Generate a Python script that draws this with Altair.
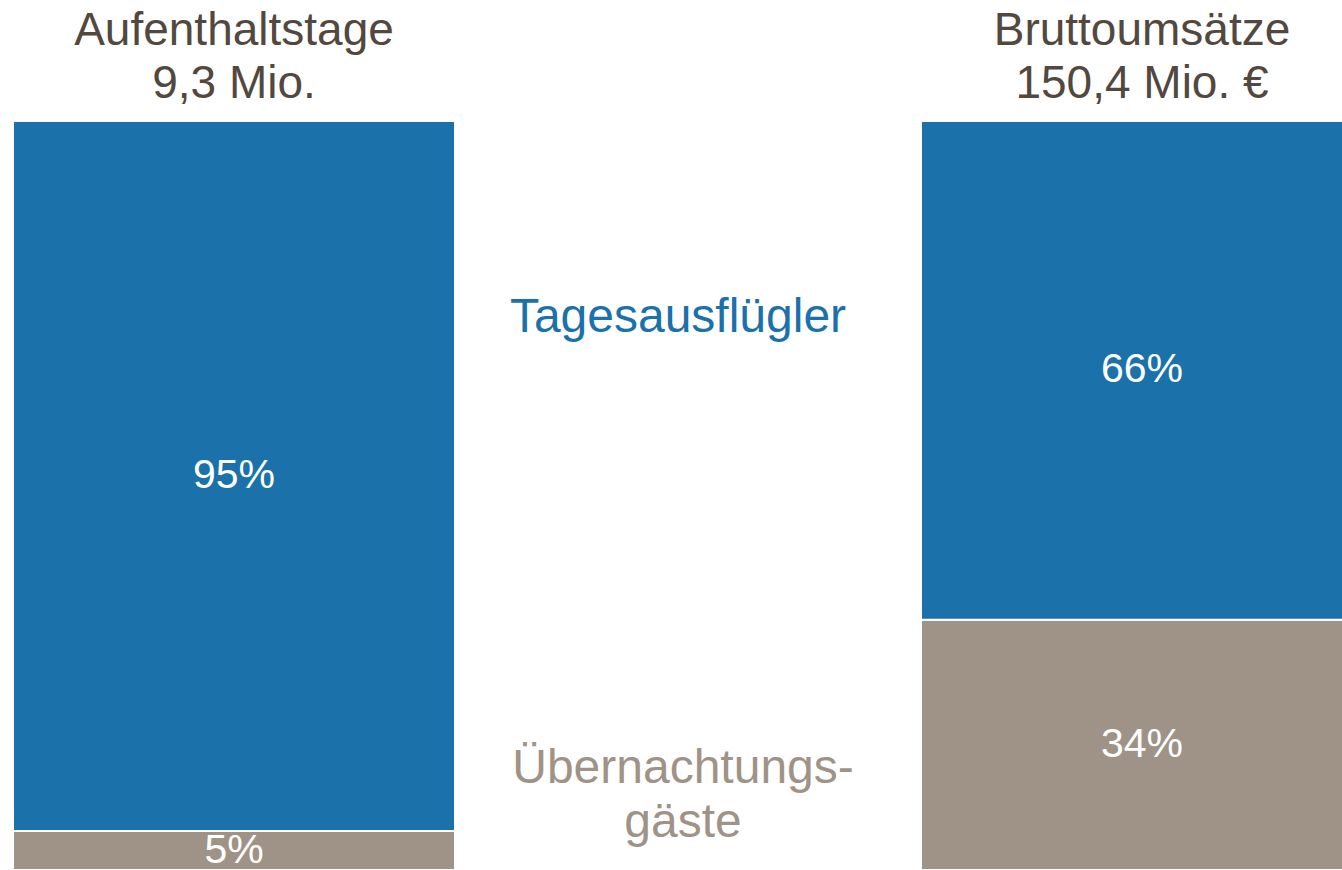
import altair as alt
import pandas as pd

# ---- data ----
categories = ["Aufenthaltstage", "Bruttoumsätze"]
totals = ["9,3 Mio.", "150,4 Mio. €"]
segments = ["Übernachtungsgäste", "Tagesausflügler"]
day_trippers = [94.8, 66.6]      # Tagesausflügler share (%), as drawn
overnight = [5.2, 33.4]          # Übernachtungsgäste share (%), as drawn
day_labels = ["95%", "66%"]
night_labels = ["5%", "34%"]
legend_day = ["Tagesausflügler"]
legend_night = ["Übernachtungs-", "gäste"]

BLUE = "#1B71AA"
GRAY = "#9F9387"
DARK = "#524840"
FONT = "Liberation Sans"

rows = []
for i, c in enumerate(categories):
    rows.append({"category": c, "segment": segments[0], "share": overnight[i],
                 "label": night_labels[i], "order": 0})
    rows.append({"category": c, "segment": segments[1], "share": day_trippers[i],
                 "label": day_labels[i], "order": 1})
df = pd.DataFrame(rows)
titles = pd.DataFrame({"category": categories, "total": totals})

x_enc = alt.X("category:N", sort=categories, axis=None,
              scale=alt.Scale(domain=categories, range=[0, 1350], paddingInner=0.5132, paddingOuter=0))
y_scale = alt.Scale(domain=[0, 100], nice=False, zero=True)

base = alt.Chart(df).transform_stack(
    stack="share", groupby=["category"], as_=["y0", "y1"],
    sort=[alt.SortField("order", order="ascending")]
).transform_calculate(mid="(datum.y0 + datum.y1) / 2")

bars = base.mark_bar(clip=True, stroke="white", strokeWidth=2).encode(
    x=x_enc,
    y=alt.Y("y0:Q", scale=y_scale, axis=None),
    y2="y1:Q",
    color=alt.Color("segment:N", scale=alt.Scale(domain=segments, range=[GRAY, BLUE]), legend=None),
)

pct = base.mark_text(font=FONT, fontSize=41, color="white", baseline="middle", align="center").encode(
    x=x_enc,
    y=alt.Y("mid:Q", scale=y_scale),
    text="label:N",
)

t1 = alt.Chart(titles).mark_text(font=FONT, fontSize=46, color=DARK, baseline="alphabetic", align="center").encode(
    x=x_enc, y=alt.value(-76), text="category:N")
t2 = alt.Chart(titles).mark_text(font=FONT, fontSize=46, color=DARK, baseline="alphabetic", align="center").encode(
    x=x_enc, y=alt.value(-23), text="total:N")

leg1 = alt.Chart(pd.DataFrame({"t": legend_day})).mark_text(
    font=FONT, fontSize=48, color=BLUE, baseline="alphabetic", align="center").encode(
    x=alt.value(665), y=alt.value(211), text="t:N")

leg2 = alt.Chart(pd.DataFrame({"t": legend_night, "line": [0, 1]})).transform_calculate(
    yy="662 + datum.line * 54").mark_text(
    font=FONT, fontSize=48, color=GRAY, baseline="alphabetic", align="center").encode(
    x=alt.value(670), y=alt.Y("yy:Q", scale=None), text="t:N")

chart = alt.layer(bars, pct, t1, t2, leg1, leg2).properties(
    width=1329, height=749,
    autosize=alt.AutoSizeParams(type="none"),
    padding={"left": 13, "top": 121, "right": 0, "bottom": 0},
).configure(background="white").configure_view(stroke=None)

chart.save("out.html", embed_options={"renderer": "svg", "actions": False})
